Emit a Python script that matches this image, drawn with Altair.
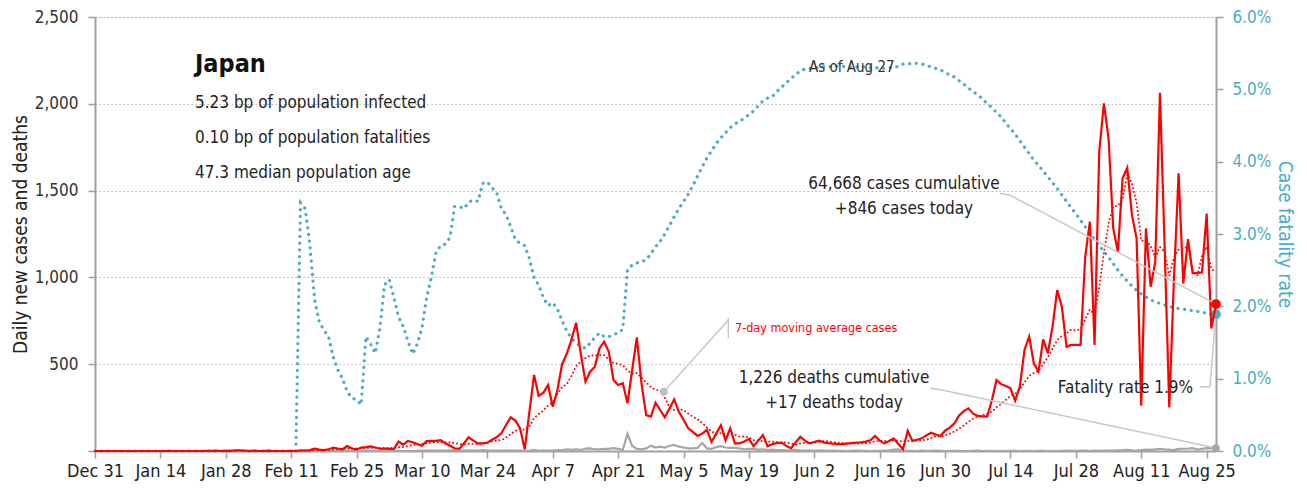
import altair as alt
import pandas as pd

FONT = "DejaVu Sans Condensed, Roboto, sans-serif"
RED = "#ff0000"
TEAL = "#4bacc6"
GRAY = "#a6a6a6"
AXIS = "#a0a0a0"
LEADER = "#c8c8c8"
INK = "#222222"

START = "2019-12-31"
END = "2020-08-27"
dates = pd.date_range(START, END, freq="D").strftime("%Y-%m-%d").tolist()

cases = [
    0, 0, 0, 0, 0, 0, 0, 0, 0, 0,
    0, 0, 0, 0, 0, 0, 1, 0, 0, 0,
    0, 0, 0, 0, 1, 1, 2, 0, 2, 1,
    4, 4, 2, 0, 2, 0, 0, 2, 0, 0,
    0, 0, 1, 0, 4, 3, 5, 14, 8, 5,
    10, 19, 14, 10, 28, 14, 9, 20, 22, 26,
    20, 13, 14, 12, 12, 54, 36, 58, 50, 40,
    30, 57, 58, 58, 63, 45, 30, 16, 12, 45,
    79, 60, 44, 44, 48, 65, 80, 102, 150, 194,
    175, 131, 10, 225, 438, 317, 336, 380, 255, 351,
    500, 560, 640, 739, 560, 400, 457, 486, 591, 630,
    572, 409, 380, 390, 275, 465, 655, 390, 207, 198,
    278, 236, 194, 245, 297, 226, 180, 131, 110, 87,
    100, 122, 52, 100, 148, 61, 131, 44, 44, 55,
    70, 28, 60, 92, 27, 40, 45, 48, 30, 15,
    50, 82, 60, 44, 52, 60, 50, 45, 42, 40,
    40, 42, 45, 48, 50, 54, 62, 86, 60, 44,
    58, 73, 40, 10, 117, 58, 65, 73, 90, 105,
    95, 86, 117, 135, 160, 205, 230, 246, 215, 202,
    200, 198, 290, 409, 385, 375, 361, 290, 371, 582,
    659, 505, 457, 643, 562, 716, 927, 831, 601, 611,
    611, 611, 1119, 1321, 611, 1724, 2002, 1800, 1282, 1148,
    1571, 1632, 1360, 1225, 261, 1282, 946, 1090, 2064, 1177,
    251, 994, 1599, 965, 1220, 1025, 1025, 1029, 1368, 706,
    846,
]

deaths = [
    0, 0, 0, 0, 0, 0, 0, 0, 0, 0,
    0, 0, 0, 0, 0, 0, 0, 0, 0, 0,
    0, 0, 0, 0, 0, 0, 0, 0, 0, 0,
    0, 0, 0, 0, 0, 0, 0, 0, 0, 0,
    0, 0, 0, 0, 1, 0, 0, 0, 0, 0,
    0, 0, 0, 0, 0, 0, 0, 0, 2, 0,
    0, 1, 1, 1, 0, 0, 0, 0, 0, 1,
    2, 2, 3, 3, 2, 2, 3, 8, 3, 2,
    4, 2, 2, 5, 3, 2, 2, 2, 2, 2,
    2, 2, 1, 1, 6, 1, 4, 3, 3, 5,
    4, 10, 6, 9, 6, 14, 15, 10, 10, 13,
    12, 17, 12, 7, 100, 30, 12, 10, 15, 30,
    20, 25, 20, 30, 35, 25, 20, 15, 15, 18,
    47, 15, 12, 22, 28, 20, 18, 18, 15, 10,
    12, 12, 8, 10, 6, 8, 5, 5, 4, 3,
    6, 4, 3, 2, 3, 2, 2, 1, 2, 1,
    1, 0, 1, 2, 1, 1, 0, 1, 1, 2,
    2, 8, 10, 3, 1, 1, 0, 2, 1, 1,
    2, 1, 0, 1, 1, 1, 0, 0, 1, 2,
    0, 1, 1, 0, 1, 0, 1, 1, 0, 1,
    1, 0, 1, 1, 0, 1, 0, 1, 2, 1,
    1, 2, 2, 0, 2, 1, 2, 3, 3, 4,
    5, 7, 4, 3, 5, 8, 6, 9, 13, 10,
    8, 5, 12, 13, 14, 16, 8, 12, 16, 15,
    17,
]

cfr_pct = [
    0, 0, 0, 0, 0, 0, 0, 0, 0, 0,
    0, 0, 0, 0, 0, 0, 0, 0, 0, 0,
    0, 0, 0, 0, 0, 0, 0, 0, 0, 0,
    0, 0, 0, 0, 0, 0, 0, 0, 0, 0,
    0, 0, 0, 0, 3.43, 3.35, 2.85, 2.10, 1.79, 1.67,
    1.58, 1.30, 1.12, 1.00, 0.82, 0.73, 0.71, 0.64, 1.58, 1.48,
    1.35, 1.70, 2.30, 2.37, 2.12, 1.85, 1.72, 1.52, 1.34, 1.48,
    1.70, 2.12, 2.40, 2.74, 2.84, 2.86, 2.95, 3.38, 3.38, 3.35,
    3.44, 3.47, 3.45, 3.70, 3.72, 3.64, 3.57, 3.35, 3.27, 3.10,
    2.92, 2.87, 2.84, 2.66, 2.40, 2.29, 2.12, 2.01, 2.05, 1.96,
    1.80, 1.66, 1.56, 1.49, 1.45, 1.42, 1.49, 1.57, 1.63, 1.58,
    1.58, 1.61, 1.63, 1.68, 2.50, 2.57, 2.60, 2.62, 2.64, 2.73,
    2.82, 2.90, 3.00, 3.12, 3.24, 3.35, 3.45, 3.55, 3.67, 3.80,
    3.93, 4.05, 4.15, 4.25, 4.33, 4.40, 4.47, 4.52, 4.56, 4.60,
    4.65, 4.70, 4.77, 4.84, 4.88, 4.90, 4.97, 5.03, 5.09, 5.15,
    5.20, 5.26, 5.28, 5.29, 5.30, 5.30, 5.31, 5.31, 5.32, 5.32,
    5.32, 5.31, 5.31, 5.31, 5.31, 5.31, 5.30, 5.30, 5.29, 5.29,
    5.30, 5.30, 5.32, 5.35, 5.35, 5.36, 5.36, 5.35, 5.33, 5.31,
    5.29, 5.27, 5.23, 5.20, 5.17, 5.12, 5.07, 5.02, 4.97, 4.92,
    4.87, 4.80, 4.75, 4.68, 4.62, 4.53, 4.46, 4.38, 4.29, 4.20,
    4.11, 4.02, 3.95, 3.87, 3.79, 3.71, 3.63, 3.54, 3.45, 3.36,
    3.28, 3.19, 3.10, 3.01, 2.93, 2.84, 2.76, 2.68, 2.59, 2.50,
    2.42, 2.35, 2.28, 2.22, 2.17, 2.13, 2.09, 2.06, 2.04, 2.02,
    2.00, 1.98, 1.97, 1.96, 1.95, 1.94, 1.93, 1.92, 1.90, 1.89,
    1.89,
]

assert len(dates) == len(cases) == len(deaths) == len(cfr_pct)

tick_dates = pd.date_range(START, "2020-08-25", freq="14D")
case_ticks = [0, 500, 1000, 1500, 2000, 2500]
cfr_ticks = [0, 0.01, 0.02, 0.03, 0.04, 0.05, 0.06]

df = pd.DataFrame({"date": dates, "cases": cases, "deaths": deaths,
                   "cfr": [v / 100 for v in cfr_pct]})
end_df = df.tail(1)


def utc(ts):
    return alt.DateTime(year=int(ts.year), month=int(ts.month), date=int(ts.day), utc=True)


def at(day):
    return (pd.Timestamp(START) + pd.Timedelta(days=day)).strftime("%Y-%m-%dT%H:%M:%SZ")


X_SCALE = alt.Scale(type="utc", domain=[utc(pd.Timestamp(START)), utc(pd.Timestamp(END))])
X_AXIS = alt.Axis(values=[utc(t) for t in tick_dates], format="%b %-d", labelFontSize=18,
                  labelColor=INK, labelPadding=4, tickSize=7, tickColor=AXIS, tickWidth=1.5,
                  domainColor=AXIS, domainWidth=2, grid=False, labelFlush=False,
                  labelOverlap=False)
X = alt.X("date:T", scale=X_SCALE, axis=X_AXIS, title=None)

L_SCALE = alt.Scale(domain=[0, 2500], nice=False)
L_AXIS = alt.Axis(orient="left", values=case_ticks,
                  labelExpr="datum.value == 0 ? '' : format(datum.value, ',')",
                  grid=True, gridDash=[1.5, 2.5], gridColor="#b4b4b4", gridWidth=1,
                  domainColor=AXIS, domainWidth=2, tickColor=AXIS, tickSize=7, tickWidth=1.5,
                  labelPadding=10, labelFontSize=17, labelColor="#333333",
                  titleFontSize=19, titleFontWeight="normal", titleColor=INK, titlePadding=4)
R_SCALE = alt.Scale(domain=[0, 0.06], nice=False)
R_AXIS = alt.Axis(orient="right", values=cfr_ticks, format=".1%", grid=False,
                  domainColor=AXIS, domainWidth=2, tickColor=AXIS, tickSize=7, tickWidth=1.5,
                  labelPadding=9, labelFontSize=17, labelColor=TEAL,
                  titleFontSize=19, titleFontWeight="normal", titleColor=TEAL, titlePadding=4)


def YL(field):
    return alt.Y(f"{field}:Q", scale=L_SCALE, axis=L_AXIS, title="Daily new cases and deaths")


def YR(field):
    return alt.Y(f"{field}:Q", scale=R_SCALE, axis=R_AXIS, title="Case fatality rate")


base = alt.Chart(df)

deaths_line = base.mark_line(color=GRAY, strokeWidth=2.2).encode(x=X, y=YL("deaths"))
ma_line = base.transform_window(ma="mean(cases)", frame=[-6, 0]).mark_line(
    color=RED, strokeWidth=1.9, strokeDash=[0.1, 3.8], strokeCap="round").encode(x=X, y=YL("ma"))
cases_line = base.mark_line(color=RED, strokeWidth=2.2).encode(x=X, y=YL("cases"))
cfr_line = base.mark_line(color=TEAL, strokeWidth=3.2, strokeDash=[0.1, 6.6],
                          strokeCap="round").encode(x=X, y=YR("cfr"))

# leader lines (annotation geometry in data units)
left_leaders = {
    "cases": [(193.7, 1484), (195.8, 1475), (240, 846)],
    "deaths": [(178.8, 361), (181.3, 351), (240, 17)],
    "ma": [(135.6, 755), (121.8, 342)],
    "bar": [(135.6, 766), (135.6, 651)],
}
rows = []
for g, pts in left_leaders.items():
    for i, (d, v) in enumerate(pts):
        rows.append({"grp": g, "ord": i, "date": at(d), "v": v})
lead_df = pd.DataFrame(rows)
leaders_l = alt.Chart(lead_df).mark_line(color=LEADER, strokeWidth=1.5).encode(
    x=X, y=YL("v"), detail="grp:N", order="ord:Q")

cfr_lead = pd.DataFrame([{"ord": i, "date": at(d), "v": v} for i, (d, v) in
                         enumerate([(236.6, 0.00889), (238.7, 0.00889), (240, 0.0189)])])
leaders_r = alt.Chart(cfr_lead).mark_line(color=LEADER, strokeWidth=1.5).encode(
    x=X, y=YR("v"), order="ord:Q")

ma_dot = alt.Chart(pd.DataFrame({"date": [at(121.8)], "v": [342]})).mark_circle(
    size=60, color="#bfbfbf", opacity=1).encode(x=X, y=YL("v"))
red_dot = alt.Chart(end_df).mark_circle(size=95, color=RED, opacity=1).encode(x=X, y=YL("cases"))
gray_dot = alt.Chart(end_df).mark_circle(size=60, color=GRAY, opacity=1).encode(x=X, y=YL("deaths"))
teal_dot = alt.Chart(end_df).mark_circle(size=95, color=TEAL, opacity=1).encode(x=X, y=YR("cfr"))


def label(text, px, py, size=17, color=INK, align="left", weight="normal"):
    return alt.Chart(pd.DataFrame({"t": [text]})).mark_text(
        align=align, baseline="alphabetic", fontSize=size, color=color,
        fontWeight=weight, font=FONT).encode(x=alt.value(px), y=alt.value(py), text="t:N")


texts = [
    label("Japan", 100, 55, size=25, color="#111111", weight="bold"),
    label("5.23 bp of population infected", 100, 91),
    label("0.10 bp of population fatalities", 100, 126),
    label("47.3 median population age", 100, 161),
    label("As of Aug 27", 714, 55, size=15, color="#333333"),
    label("64,668 cases cumulative", 809, 172, align="center"),
    label("+846 cases today", 809, 197, align="center"),
    label("1,226 deaths cumulative", 739, 366, align="center"),
    label("+17 deaths today", 739, 391, align="center"),
    label("Fatality rate 1.9%", 1098, 376, align="right"),
    label("7-day moving average cases", 640, 315, size=12.5, color=RED),
]

right = alt.layer(cfr_line, leaders_r, teal_dot)
left = alt.layer(deaths_line, ma_line, cases_line, leaders_l, ma_dot, gray_dot, red_dot, *texts)

chart = alt.layer(right, left).resolve_scale(y="independent").properties(
    width=1121, height=434,
    autosize=alt.AutoSizeParams(type="none"),
    padding={"left": 87, "top": 9, "right": 83, "bottom": 32},
).configure_view(stroke=None).configure(font=FONT, background="white")

chart.save("out.html", embed_options={"renderer": "svg", "actions": False})
